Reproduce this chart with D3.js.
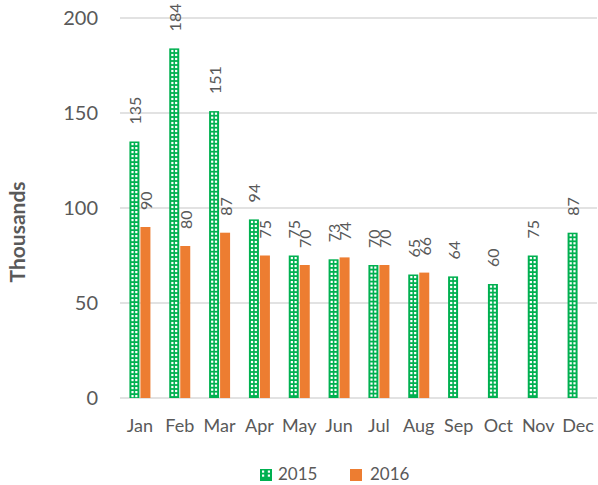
<!DOCTYPE html>
<html>
<head>
<meta charset="utf-8">
<script src="https://cdn.jsdelivr.net/npm/d3@7"></script>
<style>
  body { margin: 0; background: #fff; }
  text { font-family: Lato, "Liberation Sans", sans-serif; fill: #595959; }
</style>
</head>
<body>
<script>
var months = ['Jan','Feb','Mar','Apr','May','Jun','Jul','Aug','Sep','Oct','Nov','Dec'];
var values2015 = [135, 184, 151, 94, 75, 73, 70, 65, 64, 60, 75, 87];
var values2016 = [90, 80, 87, 75, 70, 74, 70, 66];
var yTicks = [0, 50, 100, 150, 200];
var seriesNames = ['2015', '2016'];

var width = 598, height = 485;
var green = '#00b050', orange = '#ed7d31';

var svg = d3.select('body').append('svg')
    .attr('width', width)
    .attr('height', height);

var x = d3.scaleBand().domain(months).range([120, 598]);
var y = d3.scaleLinear().domain([0, 200]).range([398, 18]);
var barW = 10;

// gridlines
svg.selectAll('line.grid')
    .data(yTicks)
    .enter()
    .append('line')
    .attr('x1', 120).attr('x2', 597)
    .attr('y1', function(d){ return y(d) })
    .attr('y2', function(d){ return y(d) })
    .attr('stroke', '#d9d9d9')
    .attr('stroke-width', 1.5);

// y labels
svg.selectAll('text.ytick')
    .data(yTicks)
    .enter()
    .append('text')
    .attr('x', 98)
    .attr('y', function(d){ return y(d) + 7 })
    .attr('text-anchor', 'end')
    .style('font-size', '20px')
    .text(function(d){ return d });

svg.append('text')
    .attr('transform', 'translate(25,232) rotate(-90)')
    .attr('text-anchor', 'middle')
    .style('font-size', '21px')
    .style('font-weight', 'bold')
    .text('Thousands');

// x labels
svg.selectAll('text.xtick')
    .data(months)
    .enter()
    .append('text')
    .attr('x', function(d){ return x(d) + x.bandwidth()/2 })
    .attr('y', 432)
    .attr('text-anchor', 'middle')
    .style('font-size', '18px')
    .text(function(d){ return d });

// draws a green bar with the little white squares
function patternBar(g, bx, by, bw, bh) {
    g.append('rect')
        .attr('x', bx).attr('y', by)
        .attr('width', bw).attr('height', bh)
        .attr('fill', green);
    for (var yy = by + 1.5; yy + 2 <= by + bh - 1; yy += 4) {
        g.append('rect').attr('x', bx + 2).attr('y', yy).attr('width', 2.2).attr('height', 2.2).attr('fill', '#fff');
        g.append('rect').attr('x', bx + bw - 4.2).attr('y', yy).attr('width', 2.2).attr('height', 2.2).attr('fill', '#fff');
    }
}

var g15 = svg.append('g');
values2015.forEach(function(v, i) {
    var cx = x(months[i]) + x.bandwidth()/2;
    patternBar(g15, cx - barW - 0.5, y(v), barW, y(0) - y(v));
});

svg.selectAll('rect.b16')
    .data(values2016)
    .enter()
    .append('rect')
    .attr('class', 'b16')
    .attr('x', function(d, i){ return x(months[i]) + x.bandwidth()/2 + 0.5 })
    .attr('y', function(d){ return y(d) })
    .attr('width', barW)
    .attr('height', function(d){ return y(0) - y(d) })
    .attr('fill', orange);

// value labels
svg.selectAll('text.l15')
    .data(values2015)
    .enter()
    .append('text')
    .attr('transform', function(d, i){
        var cx = x(months[i]) + x.bandwidth()/2 - barW/2 - 0.5;
        return 'translate(' + (cx + 6.5) + ',' + (y(d) - 17) + ') rotate(-90)';
    })
    .style('font-size', '16px')
    .text(function(d){ return d });

svg.selectAll('text.l16')
    .data(values2016)
    .enter()
    .append('text')
    .attr('transform', function(d, i){
        var cx = x(months[i]) + x.bandwidth()/2 + barW/2 + 0.5;
        return 'translate(' + (cx + 6.5) + ',' + (y(d) - 17) + ') rotate(-90)';
    })
    .style('font-size', '16px')
    .text(function(d){ return d });

// legend
var lg = svg.append('g');
patternBar(lg, 260, 469, 12, 12);
lg.append('text').attr('x', 278).attr('y', 480).style('font-size', '17px').text(seriesNames[0]);
lg.append('rect').attr('x', 350).attr('y', 469).attr('width', 12).attr('height', 12).attr('fill', orange);
lg.append('text').attr('x', 370).attr('y', 480).style('font-size', '17px').text(seriesNames[1]);
</script>
</body>
</html>
